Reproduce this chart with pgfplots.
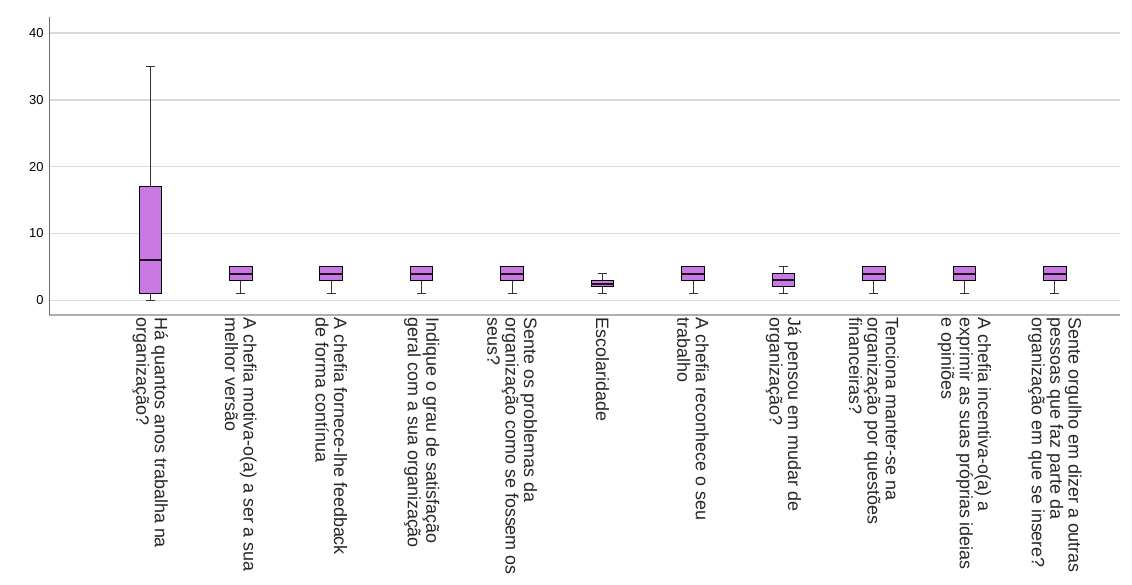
\documentclass[border=0pt]{standalone}
\usepackage{pgfplots}
\pgfplotsset{compat=1.18}
\usepgfplotslibrary{statistics}
\usepackage{fontspec}
\setmainfont{Liberation Sans}
\definecolor{boxfill}{RGB}{200,122,226}
\definecolor{gridc}{RGB}{218,218,218}
\definecolor{axisc}{RGB}{110,110,110}
\begin{document}
\begin{tikzpicture}
\useasboundingbox (-49bp,-270bp) rectangle (1083bp,315bp);
\clip (-49bp,-270bp) rectangle (1083bp,315bp);
\begin{axis}[
  at={(0,0)}, anchor=south west,
  scale only axis, width=1071bp, height=298bp,
  xmin=-1.12, xmax=10.72, ymin=-2.2, ymax=42.4,
  axis x line*=bottom, axis y line*=left,
  x axis line style={draw=gridc!80!black, line width=1.5bp},
  y axis line style={draw=axisc, line width=0.8bp},
  ytick={0,10,20,30,40},
  ymajorgrids, grid style={draw=gridc, line width=1.5bp},
  xtick={0,...,10},
  xticklabels={
    {Há quantos anos trabalha na\\organização?},
    {A chefia motiva-o(a) a ser a sua\\melhor versão},
    {A chefia fornece-lhe feedback\\de forma contínua},
    {Indique o grau de satisfação\\geral com a sua organização},
    {Sente os problemas da\\organização como se fossem os\\seus?},
    {Escolaridade},
    {A chefia reconhece o seu\\trabalho},
    {Já pensou em mudar de\\organização?},
    {Tenciona manter-se na\\organização por questões\\financeiras?},
    {A chefia incentiva-o(a) a\\exprimir as suas próprias ideias\\e opiniões},
    {Sente orgulho em dizer a outras\\pessoas que faz parte da\\organização em que se insere?}
  },
  x tick label style={rotate=-90, anchor=west, align=left, inner sep=2.5bp,
    font=\fontsize{18}{18.5}\selectfont, text=black!85},
  y tick label style={font=\fontsize{13}{15}\selectfont, xshift=-2bp},
  /pgf/number format/assume math mode=true,
  major tick length=0pt,
  boxplot/draw direction=y,
  boxplot/box extend=0.25,
  boxplot/whisker extend=0.1,
  boxplot/every box/.style={draw=black, fill=boxfill, line width=1bp},
  boxplot/every whisker/.style={draw=black!80, line width=1bp},
  boxplot/every median/.style={draw=black!85!boxfill, line width=2bp},
]
\addplot[boxplot prepared={draw position=0, lower whisker=0, lower quartile=1, median=6, upper quartile=17, upper whisker=35}] coordinates {};
\addplot[boxplot prepared={draw position=1, lower whisker=1, lower quartile=3, median=4, upper quartile=5, upper whisker=5}] coordinates {};
\addplot[boxplot prepared={draw position=2, lower whisker=1, lower quartile=3, median=4, upper quartile=5, upper whisker=5}] coordinates {};
\addplot[boxplot prepared={draw position=3, lower whisker=1, lower quartile=3, median=4, upper quartile=5, upper whisker=5}] coordinates {};
\addplot[boxplot prepared={draw position=4, lower whisker=1, lower quartile=3, median=4, upper quartile=5, upper whisker=5}] coordinates {};
\addplot[boxplot prepared={draw position=5, lower whisker=1, lower quartile=2, median=2.5, upper quartile=3, upper whisker=4}] coordinates {};
\addplot[boxplot prepared={draw position=6, lower whisker=1, lower quartile=3, median=4, upper quartile=5, upper whisker=5}] coordinates {};
\addplot[boxplot prepared={draw position=7, lower whisker=1, lower quartile=2, median=3, upper quartile=4, upper whisker=5}] coordinates {};
\addplot[boxplot prepared={draw position=8, lower whisker=1, lower quartile=3, median=4, upper quartile=5, upper whisker=5}] coordinates {};
\addplot[boxplot prepared={draw position=9, lower whisker=1, lower quartile=3, median=4, upper quartile=5, upper whisker=5}] coordinates {};
\addplot[boxplot prepared={draw position=10, lower whisker=1, lower quartile=3, median=4, upper quartile=5, upper whisker=5}] coordinates {};
\end{axis}
\end{tikzpicture}
\end{document}
